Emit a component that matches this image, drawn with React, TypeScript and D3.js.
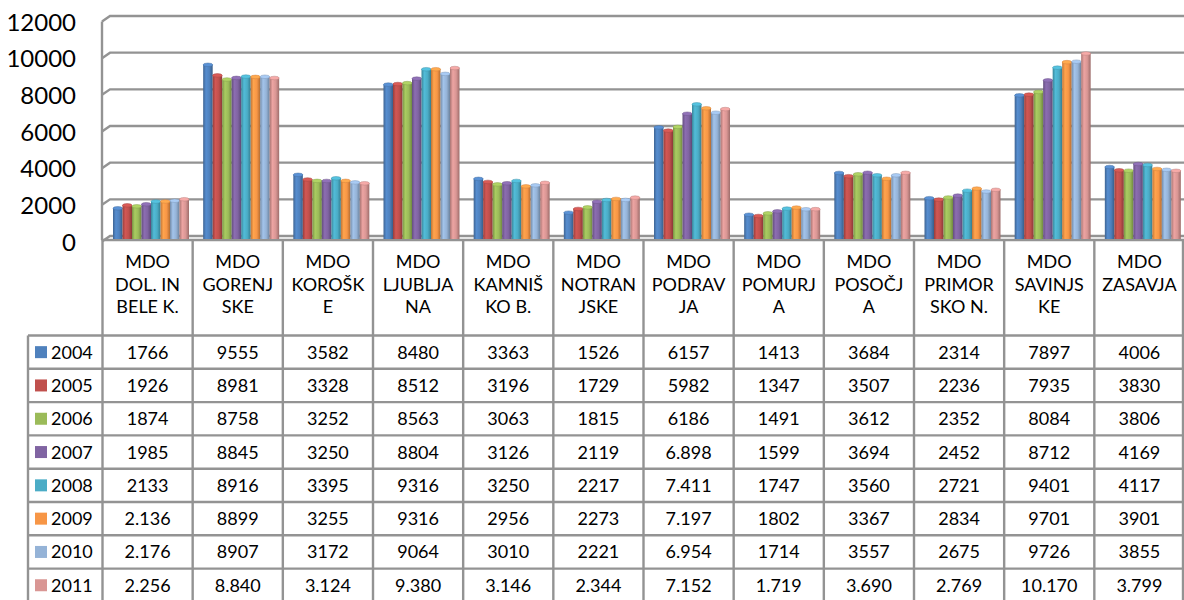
import React from "react";
import * as d3 from "d3";

const categoryLines: string[][] = [
  ["MDO", "DOL. IN", "BELE K."],
  ["MDO", "GORENJ", "SKE"],
  ["MDO", "KOROŠK", "E"],
  ["MDO", "LJUBLJA", "NA"],
  ["MDO", "KAMNIŠ", "KO B."],
  ["MDO", "NOTRAN", "JSKE"],
  ["MDO", "PODRAV", "JA"],
  ["MDO", "POMURJ", "A"],
  ["MDO", "POSOČJ", "A"],
  ["MDO", "PRIMOR", "SKO N."],
  ["MDO", "SAVINJS", "KE"],
  ["MDO", "ZASAVJA"],
];
const categories = categoryLines.map((l) => l.join(" "));

const years = ["2004", "2005", "2006", "2007", "2008", "2009", "2010", "2011"];
const colors = ["#4F81BD", "#C0504D", "#9BBB59", "#8064A2", "#4BACC6", "#F79646", "#95B3D7", "#D99694"];

// table cell texts exactly as shown (values parsed from them)
const t2004 = ["1766", "9555", "3582", "8480", "3363", "1526", "6157", "1413", "3684", "2314", "7897", "4006"];
const t2005 = ["1926", "8981", "3328", "8512", "3196", "1729", "5982", "1347", "3507", "2236", "7935", "3830"];
const t2006 = ["1874", "8758", "3252", "8563", "3063", "1815", "6186", "1491", "3612", "2352", "8084", "3806"];
const t2007 = ["1985", "8845", "3250", "8804", "3126", "2119", "6.898", "1599", "3694", "2452", "8712", "4169"];
const t2008 = ["2133", "8916", "3395", "9316", "3250", "2217", "7.411", "1747", "3560", "2721", "9401", "4117"];
const t2009 = ["2.136", "8899", "3255", "9316", "2956", "2273", "7.197", "1802", "3367", "2834", "9701", "3901"];
const t2010 = ["2.176", "8907", "3172", "9064", "3010", "2221", "6.954", "1714", "3557", "2675", "9726", "3855"];
const t2011 = ["2.256", "8.840", "3.124", "9.380", "3.146", "2.344", "7.152", "1.719", "3.690", "2.769", "10.170", "3.799"];
const tableTexts = [t2004, t2005, t2006, t2007, t2008, t2009, t2010, t2011];
const seriesValues = tableTexts.map((row) => row.map((s) => +s.replace(".", "")));

const yTicks = [0, 2000, 4000, 6000, 8000, 10000, 12000];

const W = 1184;
const H = 600;
const FONT = "Lato, 'Open Sans', sans-serif";

export default function App() {
  const x = d3.scaleBand<string>().domain(categories).range([102.5, 1184.5]);
  const yBack = d3.scaleLinear().domain([0, 12000]).range([236, 16]);
  const yFront = d3.scaleLinear().domain([0, 12000]).range([239, 18]);
  const barW = 9.5;
  const barOffset = 10.5;
  const floorFront = 240;
  const headerBottom = 335.5;
  const rowH = 33.3;
  const legendLeft = 28;
  const lineColor = "#939393";
  const fs = 18;
  const capHalf = fs * 0.36;

  const tableRight = 1184;

  return (
    <svg
      width={W}
      height={H}
      style={{ position: "absolute", left: 0, top: 0, background: "#fff" }}
      fontFamily={FONT}
    >
      <defs>
        {colors.map((c, i) => {
          const base = d3.color(c)!;
          return (
            <linearGradient key={i} id={`g${i}`} x1="0" x2="1" y1="0" y2="0">
              <stop offset="0%" stopColor={base.darker(0.7).formatHex()} />
              <stop offset="30%" stopColor={base.brighter(0.25).formatHex()} />
              <stop offset="65%" stopColor={base.formatHex()} />
              <stop offset="100%" stopColor={base.darker(0.9).formatHex()} />
            </linearGradient>
          );
        })}
      </defs>

      {/* back wall gridlines */}
      {yTicks.map((t) => {
        const yb = yBack(t);
        return (
          <path
            key={t}
            d={`M102,${yb + 5.5}L110,${yb}L${W},${yb}`}
            fill="none"
            stroke={lineColor}
            strokeWidth={2.4}
          />
        );
      })}
      {/* left wall */}
      <line x1={102} x2={102} y1={yBack(12000) + 5.5} y2={floorFront} stroke={lineColor} strokeWidth={2.4} />
      {/* floor front edge */}
      <line x1={102} x2={W} y1={floorFront} y2={floorFront} stroke={lineColor} strokeWidth={2.4} />

      {/* y axis labels */}
      {yTicks.map((t) => (
        <text key={t} x={76} y={yBack(t) + 6 + 8.6} textAnchor="end" fontSize={24} fill="#000">
          {t}
        </text>
      ))}

      {/* bars */}
      {categories.map((c, ci) =>
        years.map((yr, si) => {
          const v = seriesValues[si][ci];
          const x0 = (x(c) as number) + barOffset + si * barW;
          const top = yFront(v);
          const base = d3.color(colors[si])!;
          return (
            <g key={`${ci}-${si}`}>
              <rect x={x0} y={top + 1.5} width={barW} height={floorFront - 1 - top - 1.5} fill={`url(#g${si})`} />
              <ellipse
                cx={x0 + barW / 2}
                cy={top + 1.8}
                rx={barW / 2}
                ry={1.8}
                fill={base.brighter(0.35).formatHex()}
                stroke={base.darker(0.4).formatHex()}
                strokeWidth={0.5}
              />
            </g>
          );
        })
      )}

      {/* table: vertical lines */}
      {categories.map((c) => (
        <line
          key={c}
          x1={x(c) as number}
          x2={x(c) as number}
          y1={floorFront}
          y2={H + 20}
          stroke={lineColor}
          strokeWidth={2.4}
        />
      ))}
      <line x1={tableRight - 1} x2={tableRight - 1} y1={floorFront} y2={H + 20} stroke={lineColor} strokeWidth={2.4} />
      <line x1={legendLeft} x2={legendLeft} y1={headerBottom} y2={H + 20} stroke={lineColor} strokeWidth={2.4} />
      {/* table: horizontal lines */}
      {d3.range(years.length + 1).map((k) => (
        <line
          key={k}
          x1={legendLeft}
          x2={tableRight}
          y1={headerBottom + k * rowH}
          y2={headerBottom + k * rowH}
          stroke={lineColor}
          strokeWidth={2.4}
        />
      ))}

      {/* header category labels */}
      {categoryLines.map((lines, ci) => {
        const cx = (x(categories[ci]) as number) + x.bandwidth() / 2;
        return lines.map((ln, li) => (
          <text key={`${ci}-${li}`} x={cx} y={262 + li * 22.5 + capHalf} textAnchor="middle" fontSize={fs} fill="#000">
            {ln}
          </text>
        ));
      })}

      {/* rows */}
      {years.map((yr, si) => {
        const cy = headerBottom + si * rowH + rowH / 2;
        return (
          <g key={yr}>
            <rect x={35} y={cy - 6} width={12} height={12} fill={colors[si]} />
            <text x={51} y={cy + capHalf} fontSize={fs} fill="#000">
              {yr}
            </text>
            {tableTexts[si].map((s, ci) => (
              <text
                key={ci}
                x={(x(categories[ci]) as number) + x.bandwidth() / 2}
                y={cy + capHalf}
                textAnchor="middle"
                fontSize={fs}
                fill="#000"
              >
                {s}
              </text>
            ))}
          </g>
        );
      })}
    </svg>
  );
}
